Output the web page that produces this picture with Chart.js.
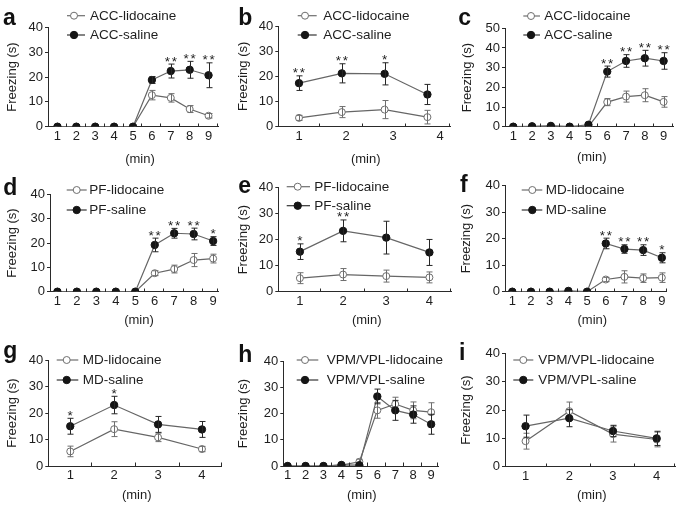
<!DOCTYPE html>
<html>
<head>
<meta charset="utf-8">
<script src="https://cdn.jsdelivr.net/npm/chart.js@4.4.0/dist/chart.umd.min.js"></script>
<style>
html, body { margin: 0; padding: 0; background: #fff; }
#wrap { position: relative; width: 685px; height: 508px; overflow: hidden; }
#wrap canvas { position: absolute; }
</style>
</head>
<body>
<div id="wrap"></div>
<script>
// ---- data ----
const min9 = [1, 2, 3, 4, 5, 6, 7, 8, 9];
const min4 = [1, 2, 3, 4];
const bX = [1, 1.91, 2.82, 3.73]; // panel b points sit left of their labels
const yTicks40 = [0, 10, 20, 30, 40];
const yTicks50 = [0, 10, 20, 30, 40, 50];

const namesACC = ['ACC-lidocaine', 'ACC-saline'];
const namesPF = ['PF-lidocaine', 'PF-saline'];
const namesMD = ['MD-lidocaine', 'MD-saline'];
const namesVPM = ['VPM/VPL-lidocaine', 'VPM/VPL-saline'];

const aLido = [0, 0, 0, 0, 0, 12.7, 11.6, 7.1, 4.4];
const aLidoErr = [0, 0, 0, 0, 0, 1.9, 1.7, 1.4, 0.9];
const aSal = [0, 0, 0, 0, 0, 18.8, 22.4, 22.9, 20.7];
const aSalErr = [0, 0, 0, 0, 0, 1.4, 2.8, 3.4, 5.0];
const aStars = ['', '', '', '', '', '', '**', '**', '**'];

const bLido = [3.5, 5.8, 6.8, 3.8];
const bLidoErr = [1.0, 2.2, 3.6, 2.7];
const bSal = [17.3, 21.2, 21.0, 12.8];
const bSalErr = [2.9, 3.8, 4.4, 4.0];
const bStars = ['**', '**', '*', ''];

const cLido = [0, 0, 0.3, 0, 0, 12.5, 15.3, 16.0, 12.6];
const cLidoErr = [0, 0, 0, 0, 0, 1.8, 2.8, 3.3, 2.7];
const cSal = [0, 0.2, 0.4, 0, 1.0, 28.0, 33.4, 34.8, 33.4];
const cSalErr = [0, 0, 0, 0, 0, 2.8, 3.2, 4.0, 4.2];
const cStars = ['', '', '', '', '', '**', '**', '**', '**'];

const dLido = [0, 0, 0, 0, 0, 7.6, 9.3, 13.0, 13.6];
const dLidoErr = [0, 0, 0, 0, 0, 1.0, 1.6, 2.7, 1.8];
const dSal = [0, 0, 0, 0, 0, 19.2, 24.0, 23.7, 20.8];
const dSalErr = [0, 0, 0, 0, 0, 2.8, 2.0, 2.4, 1.8];
const dStars = ['', '', '', '', '', '**', '**', '**', '*'];

const eLido = [5.2, 6.6, 6.0, 5.5];
const eLidoErr = [2.1, 2.3, 2.3, 2.1];
const eSal = [15.4, 23.4, 20.8, 15.1];
const eSalErr = [3.0, 4.2, 6.3, 5.0];
const eStars = ['*', '**', '', ''];

const fLido = [0, 0, 0, 0, 0, 4.6, 5.6, 5.1, 5.3];
const fLidoErr = [0, 0, 0, 0, 0, 0.8, 2.3, 1.6, 1.8];
const fSal = [0, 0, 0, 0.3, 0, 18.2, 16.1, 15.7, 12.8];
const fSalErr = [0, 0, 0, 0, 0, 2.0, 1.6, 2.0, 1.9];
const fStars = ['', '', '', '', '', '**', '**', '**', '*'];

const gLido = [5.5, 13.9, 10.8, 6.4];
const gLidoErr = [2.0, 2.8, 1.6, 1.0];
const gSal = [15.0, 23.0, 15.7, 13.8];
const gSalErr = [3.0, 3.3, 3.0, 3.0];
const gStars = ['*', '*', '', ''];

const hLido = [0, 0, 0, 0.3, 1.6, 21.2, 23.6, 21.2, 20.5];
const hLidoErr = [0, 0, 0, 0, 1.0, 3.0, 2.6, 3.2, 3.6];
const hSal = [0, 0, 0, 0.4, 0.3, 26.5, 21.2, 19.6, 15.9];
const hSalErr = [0, 0, 0, 0, 0, 2.8, 3.8, 3.3, 3.8];
const hStars = [];

const iLido = [9.0, 19.6, 11.5, 9.6];
const iLidoErr = [2.8, 3.2, 2.8, 2.6];
const iSal = [14.3, 17.1, 12.6, 10.0];
const iSalErr = [3.9, 3.0, 2.0, 2.5];
const iStars = [];

// ---- layout (page pixels) ----
const FONT = '"Liberation Sans", Arial, Helvetica, sans-serif';
const LIDO_COLOR = '#6e6e6e';
const SAL_COLOR = '#151515';
const LINE_COLOR = '#666';
const AXIS_COLOR = '#2a2a2a';
const TEXT_COLOR = '#1e1e1e';

const panels = [
  { letter: 'a', box: [0, 0, 228, 168], area: [48, 218, 27.3, 126.7], xr: [0.5, 9.5], xs: min9, xt: min9, yt: yTicks40,
    names: namesACC, lido: aLido, lidoErr: aLidoErr, sal: aSal, salErr: aSalErr, stars: aStars,
    leg: [67, 85, 74, 90, 15.7, 35], let: [3, 25], yTitle: 12.7, xTitle: [140, 159] },
  { letter: 'b', box: [228, 0, 228, 168], area: [278.3, 450, 26, 126.7], xr: [0.56, 4.21], xs: bX, xt: min4, yt: yTicks40,
    names: namesACC, lido: bLido, lidoErr: bLidoErr, sal: bSal, salErr: bSalErr, stars: bStars,
    leg: [297.7, 316.7, 305, 323.3, 15.7, 35], let: [238.3, 25], yTitle: 243.3, xTitle: [365.7, 159.3] },
  { letter: 'c', box: [456, 0, 229, 168], area: [505, 673, 28.3, 126.7], xr: [0.56, 9.5], xs: min9, xt: min9, yt: yTicks50,
    names: namesACC, lido: cLido, lidoErr: cLidoErr, sal: cSal, salErr: cSalErr, stars: cStars,
    leg: [523.3, 540, 531, 544.3, 16, 35], let: [458.3, 25], yTitle: 467.7, xTitle: [591.7, 157] },
  { letter: 'd', box: [0, 168, 228, 168], area: [50, 218, 194.3, 291.7], xr: [0.62, 9.25], xs: min9, xt: min9, yt: yTicks40,
    names: namesPF, lido: dLido, lidoErr: dLidoErr, sal: dSal, salErr: dSalErr, stars: dStars,
    leg: [66.7, 86.7, 76.7, 89.3, 190, 210], let: [3.3, 195], yTitle: 12.7, xTitle: [139, 320] },
  { letter: 'e', box: [228, 168, 228, 168], area: [278.3, 451.7, 187.7, 291.7], xr: [0.5, 4.5], xs: min4, xt: min4, yt: yTicks40,
    names: namesPF, lido: eLido, lidoErr: eLidoErr, sal: eSal, salErr: eSalErr, stars: eStars,
    leg: [286.7, 310, 297.7, 314.3, 186.7, 205.7], let: [238.3, 193.3], yTitle: 243, xTitle: [366.7, 320] },
  { letter: 'f', box: [456, 168, 229, 168], area: [505, 666.7, 185.7, 291.7], xr: [0.61, 9.26], xs: min9, xt: min9, yt: yTicks40,
    names: namesMD, lido: fLido, lidoErr: fLidoErr, sal: fSal, salErr: fSalErr, stars: fStars,
    leg: [521.7, 542.3, 532.3, 545.7, 190, 210], let: [460, 191.7], yTitle: 466.7, xTitle: [592.3, 320] },
  { letter: 'g', box: [0, 336, 228, 172], area: [48.3, 221.7, 360, 466], xr: [0.5, 4.45], xs: min4, xt: min4, yt: yTicks40,
    names: namesMD, lido: gLido, lidoErr: gLidoErr, sal: gSal, salErr: gSalErr, stars: gStars,
    leg: [56.7, 78.3, 66.7, 82.7, 360, 380], let: [3.3, 358.3], yTitle: 12.7, xTitle: [136.7, 495] },
  { letter: 'h', box: [228, 336, 228, 172], area: [283.3, 438.3, 361, 466], xr: [0.76, 9.4], xs: min9, xt: min9, yt: yTicks40,
    names: namesVPM, lido: hLido, lidoErr: hLidoErr, sal: hSal, salErr: hSalErr, stars: hStars,
    leg: [296.7, 318.3, 305, 326.7, 360, 380], let: [238.3, 361.7], yTitle: 243, xTitle: [361.7, 495] },
  { letter: 'i', box: [456, 336, 229, 172], area: [505, 675, 353.3, 466.7], xr: [0.53, 4.42], xs: min4, xt: min4, yt: yTicks40,
    names: namesVPM, lido: iLido, lidoErr: iLidoErr, sal: iSal, salErr: iSalErr, stars: iStars,
    leg: [513.3, 533.3, 523.3, 538.3, 360, 380], let: [459, 360], yTitle: 466.7, xTitle: [591.7, 495] }
];

Chart.defaults.font.family = FONT;
Chart.defaults.color = TEXT_COLOR;

function drawMarker(ctx, x, y, filled) {
  ctx.beginPath();
  ctx.arc(x, y, filled ? 3.7 : 3.5, 0, Math.PI * 2);
  ctx.fillStyle = filled ? SAL_COLOR : '#fff';
  ctx.strokeStyle = filled ? SAL_COLOR : LIDO_COLOR;
  ctx.lineWidth = 1;
  ctx.fill();
  ctx.stroke();
}

const decor = {
  id: 'decor',
  afterDatasetDraw(chart, args) {
    const ds = chart.data.datasets[args.index];
    const ys = chart.scales.y;
    const ctx = chart.ctx;
    ctx.save();
    ctx.strokeStyle = ds.errColor;
    ctx.lineWidth = 1;
    args.meta.data.forEach((pt, i) => {
      const e = ds.err[i];
      if (!e) return;
      const v = ds.data[i].y;
      const y1 = ys.getPixelForValue(v + e);
      const y2 = ys.getPixelForValue(v - e);
      const x = Math.round(pt.x) + 0.5;
      ctx.beginPath();
      ctx.moveTo(x, y1); ctx.lineTo(x, y2);
      ctx.moveTo(x - 3, y1); ctx.lineTo(x + 3, y1);
      ctx.moveTo(x - 3, y2); ctx.lineTo(x + 3, y2);
      ctx.stroke();
    });
    ctx.restore();
  },
  afterDraw(chart) {
    const p = chart.options.plugins.decor.panel;
    const [x0, y0] = p.box;
    const ctx = chart.ctx;
    const xs = chart.scales.x, ys = chart.scales.y;
    const area = chart.chartArea;
    ctx.save();

    // inward tick marks between the minutes
    const marks = [];
    for (let i = 0; i < p.xs.length - 1; i++) marks.push((p.xs[i] + p.xs[i + 1]) / 2);
    marks.push(p.xr[1]);
    ctx.strokeStyle = AXIS_COLOR;
    ctx.lineWidth = 1;
    ctx.beginPath();
    marks.forEach(m => {
      const x = Math.round(xs.getPixelForValue(m)) - 0.5;
      ctx.moveTo(x, Math.round(area.bottom));
      ctx.lineTo(x, Math.round(area.bottom) - 3.5);
    });
    ctx.stroke();

    // significance stars
    ctx.fillStyle = TEXT_COLOR;
    ctx.font = '13.5px ' + FONT;
    ctx.textAlign = 'center';
    ctx.textBaseline = 'alphabetic';
    p.stars.forEach((s, i) => {
      if (!s) return;
      const top = Math.min(ys.getPixelForValue(p.sal[i] + p.salErr[i]), ys.getPixelForValue(p.lido[i] + p.lidoErr[i]));
      const cx = xs.getPixelForValue(p.xs[i]);
      for (let k = 0; k < s.length; k++) {
        ctx.fillText('*', cx + (k - (s.length - 1) / 2) * 7, top + 1.5);
      }
    });

    // legend
    const [lx0, lx1, mx, tx, r1, r2] = p.leg;
    [[r1, false, p.names[0]], [r2, true, p.names[1]]].forEach(([ry, filled, name]) => {
      const y = ry - y0;
      ctx.strokeStyle = filled ? '#333' : LIDO_COLOR;
      ctx.lineWidth = 1.2;
      ctx.beginPath();
      ctx.moveTo(lx0 - x0, y);
      ctx.lineTo(lx1 - x0, y);
      ctx.stroke();
      drawMarker(ctx, mx - x0, y, filled);
      ctx.fillStyle = TEXT_COLOR;
      ctx.font = '13.5px ' + FONT;
      ctx.textAlign = 'left';
      ctx.textBaseline = 'middle';
      ctx.fillText(name, tx - x0, y + 0.5);
    });

    // axis titles
    ctx.fillStyle = TEXT_COLOR;
    ctx.font = '13px ' + FONT;
    ctx.textAlign = 'center';
    ctx.textBaseline = 'middle';
    ctx.fillText('(min)', p.xTitle[0] - x0, p.xTitle[1] - y0);
    ctx.save();
    ctx.translate(p.yTitle - x0, (area.top + area.bottom) / 2);
    ctx.rotate(-Math.PI / 2);
    ctx.fillText('Freezing (s)', 0, 0);
    ctx.restore();

    // panel letter
    ctx.font = 'bold 23px ' + FONT;
    ctx.textAlign = 'left';
    ctx.textBaseline = 'alphabetic';
    ctx.fillStyle = '#111';
    ctx.fillText(p.letter, p.let[0] - x0, p.let[1] - y0);
    ctx.restore();
  }
};

const wrap = document.getElementById('wrap');

panels.forEach(p => {
  const [x0, y0, w, h] = p.box;
  const [l, r, t, b] = p.area;
  const cv = document.createElement('canvas');
  cv.width = w; cv.height = h;
  cv.style.left = x0 + 'px'; cv.style.top = y0 + 'px';
  cv.style.width = w + 'px'; cv.style.height = h + 'px';
  wrap.appendChild(cv);

  new Chart(cv, {
    type: 'line',
    data: {
      datasets: [
        {
          label: p.names[1],
          data: p.xs.map((x, i) => ({ x: x, y: p.sal[i] })),
          err: p.salErr,
          errColor: '#262626',
          order: 0,
          borderColor: LINE_COLOR,
          borderWidth: 1.2,
          pointRadius: 3.7,
          pointBorderWidth: 1,
          pointBackgroundColor: SAL_COLOR,
          pointBorderColor: SAL_COLOR,
          tension: 0
        },
        {
          label: p.names[0],
          data: p.xs.map((x, i) => ({ x: x, y: p.lido[i] })),
          err: p.lidoErr,
          errColor: LIDO_COLOR,
          order: 1,
          borderColor: LINE_COLOR,
          borderWidth: 1.2,
          pointRadius: 3.5,
          pointBorderWidth: 1,
          pointBackgroundColor: '#fff',
          pointBorderColor: LIDO_COLOR,
          tension: 0
        }
      ]
    },
    options: {
      responsive: false,
      animation: false,
      devicePixelRatio: 1,
      layout: { padding: { left: 0, top: t - y0, right: x0 + w - r, bottom: 0 } },
      plugins: {
        legend: { display: false },
        tooltip: { enabled: false },
        decor: { panel: p }
      },
      scales: {
        x: {
          type: 'linear',
          min: p.xr[0],
          max: p.xr[1],
          grid: { display: false, drawTicks: false },
          border: { display: true, color: AXIS_COLOR, width: 1 },
          ticks: {
            color: TEXT_COLOR,
            font: { size: 13 },
            padding: 2,
            autoSkip: false,
            maxRotation: 0,
            callback: v => String(v)
          },
          afterBuildTicks: s => { s.ticks = p.xt.map(v => ({ value: v })); },
          afterFit: s => { s.height = y0 + h - b; }
        },
        y: {
          type: 'linear',
          min: 0,
          max: p.yt[p.yt.length - 1],
          grid: { display: true, drawOnChartArea: false, drawTicks: true, tickLength: 3, tickColor: AXIS_COLOR },
          border: { display: true, color: AXIS_COLOR, width: 1 },
          ticks: {
            color: TEXT_COLOR,
            font: { size: 13 },
            padding: 2,
            callback: v => String(v)
          },
          afterBuildTicks: s => { s.ticks = p.yt.map(v => ({ value: v })); },
          afterFit: s => { s.width = l - x0; }
        }
      }
    },
    plugins: [decor]
  });
});
</script>
</body>
</html>
